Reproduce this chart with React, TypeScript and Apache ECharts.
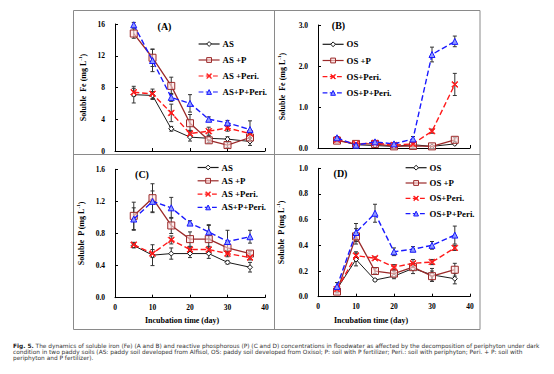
import React, { useEffect, useRef } from "react";
import * as echarts from "echarts";

const days = [5, 10, 15, 20, 25, 30, 36];

// Panel A: soluble Fe, AS soil
const asFe = [7.1, 7.0, 2.8, 1.75, 1.6, 1.5, 1.2];
const asFeErr = [1.05, 0.5, 0.3, 0.5, 0.3, 0.3, 0.5];
const asPFe = [14.8, 11.75, 8.2, 3.5, 1.35, 0.75, 1.7];
const asPFeErr = [0.6, 1.1, 1.1, 1.1, 0.3, 0.3, 0.5];
const asPeriFe = [7.4, 7.2, 4.8, 2.2, 2.5, 2.9, 2.2];
const asPeriFeErr = [0.5, 0.6, 1.1, 0.4, 0.5, 0.4, 0.5];
const asPPeriFe = [15.9, 11.4, 6.75, 6.0, 4.0, 3.55, 2.7];
const asPPeriFeErr = [0.3, 1.4, 0.5, 1.1, 0.3, 0.3, 1.1];

// Panel B: soluble Fe, OS soil
const osFe = [0.2, 0.08, 0.06, 0.04, 0.08, 0.04, 0.1];
const osFeErr = [0.03, 0.02, 0.02, 0.02, 0.02, 0.02, 0.02];
const osPFe = [0.18, 0.1, 0.1, 0.04, 0.05, 0.04, 0.2];
const osPFeErr = [0.03, 0.02, 0.03, 0.02, 0.02, 0.02, 0.05];
const osPeriFe = [0.2, 0.1, 0.12, 0.07, 0.1, 0.41, 1.55];
const osPeriFeErr = [0.03, 0.02, 0.03, 0.02, 0.03, 0.05, 0.27];
const osPPeriFe = [0.25, 0.07, 0.15, 0.1, 0.22, 2.28, 2.6];
const osPPeriFeErr = [0.03, 0.02, 0.03, 0.02, 0.06, 0.18, 0.13];

// Panel C: soluble P, AS soil
const asP = [0.65, 0.53, 0.55, 0.55, 0.55, 0.44, 0.38];
const asPErr = [0.03, 0.13, 0.07, 0.05, 0.06, 0.02, 0.06];
const asPP = [1.02, 1.24, 0.9, 0.73, 0.73, 0.62, 0.55];
const asPPErr = [0.17, 0.18, 0.1, 0.09, 0.17, 0.05, 0.03];
const asPeriP = [0.66, 0.55, 0.72, 0.6, 0.6, 0.55, 0.5];
const asPeriPErr = [0.03, 0.05, 0.05, 0.03, 0.04, 0.04, 0.03];
const asPPeriP = [0.98, 1.2, 1.12, 0.93, 0.82, 0.7, 0.76];
const asPPeriPErr = [0.14, 0.13, 0.13, 0.03, 0.09, 0.14, 0.08];

// Panel D: soluble P, OS soil
const osP = [0.06, 0.29, 0.13, 0.16, 0.22, 0.17, 0.14];
const osPErr = [0.02, 0.05, 0.01, 0.02, 0.04, 0.05, 0.04];
const osPP = [0.04, 0.47, 0.2, 0.18, 0.23, 0.16, 0.21];
const osPPErr = [0.01, 0.06, 0.02, 0.02, 0.02, 0.04, 0.05];
const osPeriP = [0.06, 0.32, 0.3, 0.23, 0.26, 0.27, 0.38];
const osPeriPErr = [0.01, 0.03, 0.01, 0.02, 0.03, 0.02, 0.02];
const osPPeriP = [0.08, 0.5, 0.65, 0.35, 0.37, 0.4, 0.48];
const osPPeriPErr = [0.03, 0.07, 0.07, 0.03, 0.02, 0.03, 0.07];

const asNames = ["AS", "AS +P", "AS +Peri.", "AS+P+Peri."];
const osNames = ["OS", "OS +P", "OS+Peri.", "OS+P+Peri."];
const xTicks = [0, 10, 20, 30, 40];

const SERIF = "'Liberation Serif', 'Times New Roman', serif";
const CAPFONT = "'DejaVu Sans', Verdana, sans-serif";
const X_PATH =
  "path://M1,0 L5,4 L9,0 L10,1 L6,5 L10,9 L9,10 L5,6 L1,10 L0,9 L4,5 L0,1 Z";

const styles = [
  { color: "#1a1a1a", type: "solid", symbol: "diamond", size: 5, fill: "#ffffff", width: 1 },
  { color: "#9b2a2a", type: "solid", symbol: "rect", size: 7, fill: "rgba(255,225,225,0.6)", width: 1.3 },
  { color: "#ff1a1a", type: "dashed", symbol: X_PATH, size: 6, fill: "#ff1a1a", width: 1.4 },
  { color: "#1a1aff", type: "dashed", symbol: "triangle", size: 6, fill: "#8f9bff", width: 1.4 },
];

export default function App() {
  const ref = useRef<HTMLDivElement>(null);
  useEffect(() => {
    if (!ref.current) return;
    const chart = echarts.init(ref.current, undefined, { renderer: "svg" });

    const grids = [
      { left: 115, top: 24, width: 150, height: 127 },
      { left: 318, top: 25, width: 152, height: 123 },
      { left: 115, top: 169.3, width: 150, height: 128.4 },
      { left: 318, top: 168.3, width: 152, height: 128.4 },
    ];
    const yCfg = [
      { max: 16, interval: 4, dec: 0, gap: 27 },
      { max: 3, interval: 1, dec: 1, gap: 31 },
      { max: 1.6, interval: 0.4, dec: 1, gap: 29 },
      { max: 1, interval: 0.2, dec: 1, gap: 32 },
    ];
    const yTitles = ["Fe", "Fe", "P", "P"];
    const panels = [
      { names: asNames, vals: [asFe, asPFe, asPeriFe, asPPeriFe], errs: [asFeErr, asPFeErr, asPeriFeErr, asPPeriFeErr] },
      { names: osNames, vals: [osFe, osPFe, osPeriFe, osPPeriFe], errs: [osFeErr, osPFeErr, osPeriFeErr, osPPeriFeErr] },
      { names: asNames, vals: [asP, asPP, asPeriP, asPPeriP], errs: [asPErr, asPPErr, asPeriPErr, asPPeriPErr] },
      { names: osNames, vals: [osP, osPP, osPeriP, osPPeriP], errs: [osPErr, osPPErr, osPeriPErr, osPPeriPErr] },
    ];

    const xAxis = grids.map((_, i) => ({
      type: "value",
      gridIndex: i,
      min: xTicks[0],
      max: xTicks[xTicks.length - 1],
      interval: 10,
      axisLine: { lineStyle: { color: "#000", width: 1 } },
      axisTick: { inside: true, length: 3, lineStyle: { color: "#000" } },
      splitLine: { show: false },
      axisLabel: {
        show: i >= 2,
        margin: 6,
        fontFamily: SERIF,
        fontWeight: "bold",
        fontSize: 7.5,
        color: "#000",
      },
    }));

    const yAxis = grids.map((_, i) => ({
      type: "value",
      gridIndex: i,
      min: 0,
      max: yCfg[i].max,
      interval: yCfg[i].interval,
      axisLine: { show: true, lineStyle: { color: "#000", width: 1 } },
      axisTick: { show: true, inside: true, length: 3, lineStyle: { color: "#000" } },
      splitLine: { show: false },
      axisLabel: {
        margin: 10,
        fontFamily: SERIF,
        fontWeight: "bold",
        fontSize: 7.5,
        color: "#000",
        formatter: (v: number) => v.toFixed(yCfg[i].dec),
      },
      name: `{a|Soluble  ${yTitles[i]} (mg L}{s|-1}{a|)}`,
      nameLocation: "middle",
      nameGap: yCfg[i].gap,
      nameRotate: 90,
      nameTextStyle: {
        rich: {
          a: { fontFamily: SERIF, fontWeight: "bold", fontSize: 8, color: "#000" },
          s: { fontFamily: SERIF, fontWeight: "bold", fontSize: 5, color: "#000", padding: [0, 0, 5, 0] },
        },
      },
    }));

    const series: any[] = [];
    panels.forEach((p, gi) => {
      p.vals.forEach((vals, si) => {
        const st = styles[si];
        series.push({
          type: "line",
          name: p.names[si],
          xAxisIndex: gi,
          yAxisIndex: gi,
          data: days.map((d, k) => [d, vals[k]]),
          symbol: st.symbol,
          symbolSize: st.size,
          showAllSymbol: true,
          z: 3 + si,
          lineStyle: { color: st.color, type: st.type, width: st.width },
          itemStyle: { color: st.fill, borderColor: st.color, borderWidth: 1 },
        });
      });
      p.vals.forEach((vals, si) => {
        const errs = p.errs[si];
        series.push({
          type: "custom",
          xAxisIndex: gi,
          yAxisIndex: gi,
          z: 2,
          data: days.map((d, k) => [d, vals[k] - errs[k], vals[k] + errs[k]]),
          encode: { x: 0, y: [1, 2] },
          renderItem: (_params: any, api: any) => {
            const x = api.value(0);
            const p1 = api.coord([x, api.value(1)]);
            const p2 = api.coord([x, api.value(2)]);
            const w = 2;
            const s = { stroke: "#333", lineWidth: 1 };
            return {
              type: "group",
              children: [
                { type: "line", shape: { x1: p1[0], y1: p1[1], x2: p2[0], y2: p2[1] }, style: s },
                { type: "line", shape: { x1: p1[0] - w, y1: p1[1], x2: p1[0] + w, y2: p1[1] }, style: s },
                { type: "line", shape: { x1: p2[0] - w, y1: p2[1], x2: p2[0] + w, y2: p2[1] }, style: s },
              ],
            };
          },
        });
      });
    });

    const legendPos = [
      { left: 198, top: 39.5, gap: 7 },
      { left: 322, top: 39.8, gap: 7.2 },
      { left: 197, top: 163, gap: 4.3 },
      { left: 405, top: 163.2, gap: 6.3 },
    ];
    const legend = legendPos.map((lp, i) => ({
      orient: "vertical",
      left: lp.left,
      top: lp.top,
      itemWidth: 21,
      itemHeight: 6,
      itemGap: lp.gap,
      padding: 0,
      selectedMode: false,
      data: panels[i].names.map((n, si) => ({
        name: n,
        lineStyle: { color: styles[si].color, type: styles[si].type, width: 1.2 },
        itemStyle: { color: styles[si].fill, borderColor: styles[si].color, borderWidth: 1 },
      })),
      textStyle: { fontFamily: SERIF, fontWeight: "bold", fontSize: 8.8, color: "#000", padding: [0, 0, 0, -2] },
    }));

    const border = { stroke: "#8a8a8a", lineWidth: 1, fill: "none" };
    const lbl = (text: string, x: number, y: number) => ({
      type: "text",
      x,
      y,
      style: {
        text,
        fontFamily: SERIF,
        fontWeight: "bold",
        fontSize: 10,
        fill: "#000",
        align: "center",
        verticalAlign: "middle",
      },
    });
    const xTitle = (x: number) => ({
      type: "text",
      x,
      y: 320,
      style: {
        text: "Incubation time (day)",
        fontFamily: SERIF,
        fontWeight: "bold",
        fontSize: 8,
        fill: "#000",
        align: "center",
        verticalAlign: "middle",
      },
    });
    const cap = (text: string, y: number, bold?: string) => ({
      type: "text",
      x: 13,
      y,
      style: {
        text: bold ? `{b|${bold}}{n|${text}}` : `{n|${text}}`,
        rich: {
          b: { fontFamily: CAPFONT, fontWeight: "bold", fontSize: 5.85, fill: "#222" },
          n: { fontFamily: CAPFONT, fontSize: 5.85, fill: "#333" },
        },
        verticalAlign: "middle",
      },
    });

    const graphic = [
      { type: "rect", shape: { x: 73.5, y: 10.5, width: 406.5, height: 319 }, style: border },
      { type: "line", shape: { x1: 274.5, y1: 10.5, x2: 274.5, y2: 329.5 }, style: border },
      { type: "line", shape: { x1: 73.5, y1: 154.5, x2: 480, y2: 154.5 }, style: border },
      lbl("(A)", 164.5, 26.7),
      lbl("(B)", 338.5, 25.5),
      lbl("(C)", 142, 174),
      lbl("(D)", 340.5, 173.5),
      xTitle(182),
      xTitle(371),
      cap(
        " The dynamics of soluble iron (Fe) (A and B) and reactive phosphorous (P) (C and D) concentrations in floodwater as affected by the decomposition of periphyton under dark",
        346,
        "Fig. 5."
      ),
      cap(
        "condition in two paddy soils (AS: paddy soil developed from Alfisol, OS: paddy soil developed from Oxisol; P: soil with P fertilizer; Peri.: soil with periphyton; Peri. + P: soil with",
        352.2
      ),
      cap("periphyton and P fertilizer).", 358.4),
    ];

    chart.setOption({
      animation: false,
      backgroundColor: "#ffffff",
      grid: grids,
      xAxis,
      yAxis,
      legend,
      series,
      graphic,
    });
    return () => chart.dispose();
  }, []);
  return (
    <div
      ref={ref}
      style={{ position: "absolute", left: 0, top: 0, width: 554, height: 374, background: "#fff" }}
    />
  );
}
